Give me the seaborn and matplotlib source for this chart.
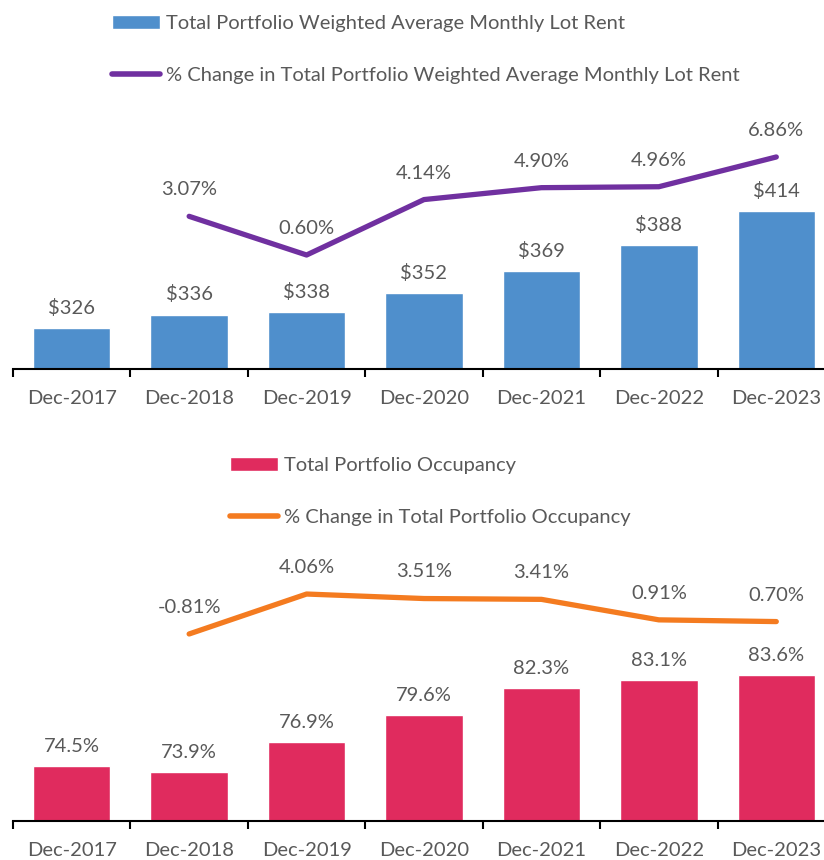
import numpy as np
import matplotlib
matplotlib.use('Agg')
import matplotlib.pyplot as plt
from matplotlib.patches import Patch
from matplotlib.lines import Line2D
import seaborn as sns

sns.set_style('white')
plt.rcParams['font.family'] = ['Lato', 'DejaVu Sans']

dates = ['Dec-2017', 'Dec-2018', 'Dec-2019', 'Dec-2020', 'Dec-2021', 'Dec-2022', 'Dec-2023']
rent = [326, 336, 338, 352, 369, 388, 414]
rent_chg = [3.07, 0.60, 4.14, 4.90, 4.96, 6.86]
occ = [74.5, 73.9, 76.9, 79.6, 82.3, 83.1, 83.6]
occ_chg = [-0.81, 4.06, 3.51, 3.41, 0.91, 0.70]

gray = '#595959'
fs = 14.5
W, H = 824, 860
fig = plt.figure(figsize=(W / 100, H / 100), dpi=100)


def panel(top_px, bot_px, bars, bar_ylim, bar_fmt, chg, chg_ylim, bar_col, line_col,
          bar_lab, line_lab, leg_x, leg_y):
    left = 13
    right = 835
    ax = fig.add_axes([left / W, 1 - bot_px / H, (right - left) / W, (bot_px - top_px) / H])
    sns.barplot(x=dates, y=bars, ax=ax, color=bar_col, width=0.66, saturation=1)
    ax.set_ylim(*bar_ylim)
    ax.set_xlim(-0.5, len(dates) - 0.5)
    for i, v in enumerate(bars):
        ax.annotate(bar_fmt(v), (i, v), xytext=(0, 8), textcoords='offset points',
                    ha='center', va='bottom', fontsize=fs, color=gray)
    ax2 = ax.twinx()
    xs = np.arange(1, len(dates))
    sns.lineplot(x=xs, y=chg, ax=ax2, color=line_col, linewidth=3.8)
    ax2.set_ylim(*chg_ylim)
    ax2.set_xlim(-0.5, len(dates) - 0.5)
    for x, v in zip(xs, chg):
        ax2.annotate(f'{v:.2f}%', (x, v), xytext=(0, 13), textcoords='offset points',
                     ha='center', va='bottom', fontsize=fs, color=gray)
    for a in (ax, ax2):
        for s in ['top', 'left', 'right']:
            a.spines[s].set_visible(False)
        a.set_yticks([])
        a.set_ylabel('')
    ax2.spines['bottom'].set_visible(False)
    ax.spines['bottom'].set_color('black')
    ax.spines['bottom'].set_linewidth(1.5)
    ax.set_xticks(np.arange(-0.5, len(dates)), minor=True)
    ax.tick_params(axis='x', which='minor', length=6, width=1.5, direction='out', color='black', bottom=True)
    ax.tick_params(axis='x', which='major', length=0, pad=15, labelsize=fs, labelcolor=gray)
    handles = [Patch(facecolor=bar_col, label=bar_lab),
               Line2D([0], [0], color=line_col, linewidth=4, solid_capstyle='round', label=line_lab)]
    fig.legend(handles=handles, loc='upper left', bbox_to_anchor=(leg_x / W, 1 - leg_y / H),
               frameon=False, fontsize=fs, labelcolor=gray, handlelength=2.4,
               handletextpad=0.3, labelspacing=1.75, borderpad=0, borderaxespad=0)


panel(110, 369, rent, (295, 490), lambda v: f'${v}', rent_chg, (-6.68, 9.86),
      '#4F8FCC', '#7030A0',
      'Total Portfolio Weighted Average Monthly Lot Rent',
      '% Change in Total Portfolio Weighted Average Monthly Lot Rent', 112, 15)
panel(560, 821, occ, (69, 95.1), lambda v: f'{v:.1f}%', occ_chg, (-23.62, 8.21),
      '#E02B5E', '#F47B20',
      'Total Portfolio Occupancy',
      '% Change in Total Portfolio Occupancy', 230, 457)

plt.savefig('out.png', dpi=100)
